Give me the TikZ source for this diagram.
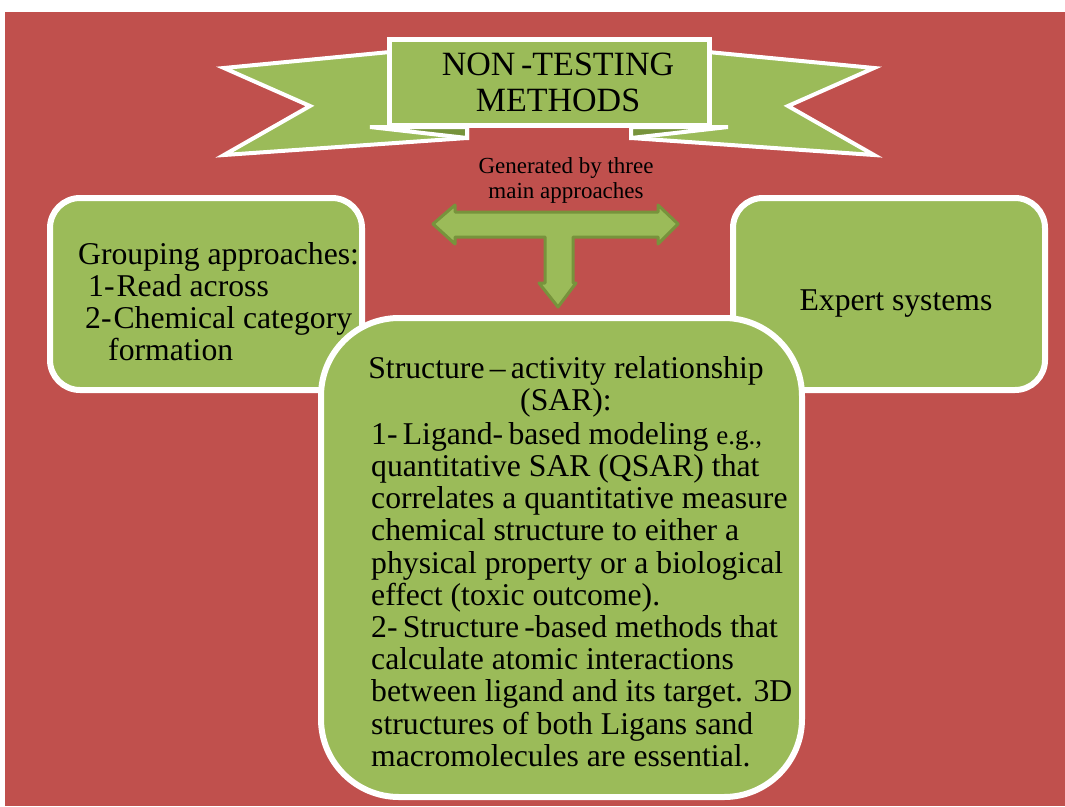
\documentclass[tikz,border=0pt]{standalone}
\usepackage{fontspec}
\setmainfont{Liberation Serif}
\definecolor{slidered}{HTML}{C0504D}
\definecolor{leafgreen}{HTML}{9BBB59}
\definecolor{darkleaf}{HTML}{77933C}

\begin{document}
\begin{tikzpicture}[x=1pt, y=-1pt,
  greenbox/.style={draw=white, line width=6pt, fill=leafgreen, rounded corners=30pt,
    minimum width=312pt, minimum height=192pt, inner sep=0pt},
  tail/.style={draw=white, line width=4pt, fill=leafgreen},
  boxtext/.style={inner sep=0pt, font=\fontsize{31.7}{32.2}\selectfont}]
  \useasboundingbox (0,0) rectangle (1065,806);
  \fill[slidered] (5,12) rectangle (1065,806);
  % ribbon tails and folds, mirrored about the banner centre
  \foreach \s in {-1,1} {
    \begin{scope}[shift={(549,0)}, xscale=\s]
      \draw[tail] (-325,68) -- (-239,106) -- (-325,155) -- (-82,138) -- (-82,60) -- (-159,52) -- cycle;
      \draw[tail, fill=darkleaf] (-179,127) -- (-82,127) -- (-82,138) -- cycle;
    \end{scope}
  }
  \node[draw=white, line width=5pt, fill=leafgreen, minimum width=320pt, minimum height=86pt,
    align=center, inner sep=0pt, font=\fontsize{34}{36}\selectfont] (banner) at (549,82)
    {\hspace*{18pt}NON\,-TESTING\\\hspace*{18pt}METHODS};
  \node[inner sep=0pt, align=center, font=\fontsize{23}{25}\selectfont] (approaches) at (566,180)
    {Generated by three\\main approaches};
  % side boxes
  \node[greenbox] (grouping) at (206,294) {};
  \node[boxtext, anchor=north west, align=left] (groupingtext) at (78,242)
    {Grouping approaches:\\\hspace*{10pt}1-\kern2pt Read across\\\hspace*{7pt}2-\kern2pt Chemical category\\\hspace*{30pt}formation};
  \node[greenbox, font=\fontsize{31.7}{32.2}\selectfont] (expert) at (889,294)
    {\raisebox{-10pt}[\height][\depth]{\hspace*{14pt}Expert systems}};
  % T-shaped block arrow
  \draw[draw=darkleaf, line width=3pt, fill=leafgreen, line join=round]
    (433,224) -- (455,205) -- (455,212) -- (658,212) -- (658,205) -- (678,224) -- (658,244)
    -- (658,237) -- (573,237) -- (573,283) -- (576,283) -- (558,307) -- (539,283) -- (545,283)
    -- (545,237) -- (455,237) -- (455,244) -- cycle;
  % central box
  \node[greenbox, minimum width=481pt, minimum height=479pt, rounded corners=78pt] (sar) at (561.5,557.5) {};
  \node[boxtext, anchor=north, align=center] (sartitle) at (566,356)
    {Structure\,–\,activity relationship\\(SAR):};
  \node[boxtext, anchor=north west, align=left] (sarbody) at (371,422)
    {1-\,Ligand-\,based modeling {\fontsize{27}{32.2}\selectfont e.g.,}\\
     quantitative SAR (QSAR) that\\
     correlates a quantitative measure\\
     chemical structure to either a\\
     physical property or a biological\\
     effect (toxic outcome).\\
     2-\,Structure\,-based methods that\\
     calculate atomic interactions\\
     between ligand and its target. 3D\\
     structures of both Ligans sand\\
     macromolecules are essential.};
\end{tikzpicture}
\end{document}
